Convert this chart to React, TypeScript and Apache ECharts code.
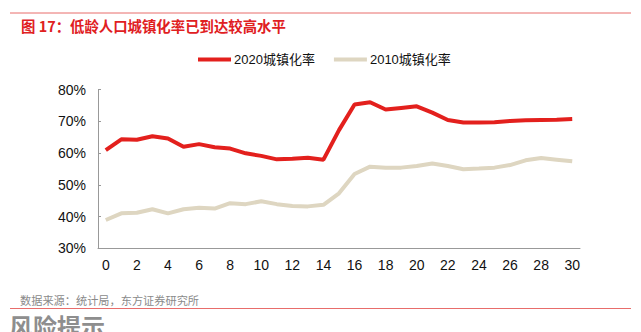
import React, { useEffect, useRef } from "react";
import * as echarts from "echarts";

const categories = Array.from({ length: 31 }, (_, i) => String(i));
const urban2020 = [
  60.9, 64.3, 64.2, 65.3, 64.6, 62.0, 62.8, 61.8, 61.4, 59.9, 59.1, 58.0, 58.2, 58.5, 57.9,
  67.2, 75.3, 76.0, 73.7, 74.2, 74.7, 72.7, 70.4, 69.6, 69.6, 69.7, 70.1, 70.3, 70.4, 70.5, 70.7,
];
const urban2010 = [
  38.9, 41.0, 41.2, 42.3, 41.0, 42.3, 42.8, 42.5, 44.2, 43.9, 44.8, 43.9, 43.3, 43.2, 43.7,
  47.3, 53.4, 55.7, 55.4, 55.4, 55.9, 56.7, 55.9, 54.9, 55.1, 55.4, 56.2, 57.7, 58.4, 57.9, 57.4,
];
const seriesNames = ["2020城镇化率", "2010城镇化率"];
const titleText = "图 17：低龄人口城镇化率已到达较高水平";
const sourceText = "数据来源：统计局，东方证券研究所";
const footerText = "风险提示";

const FONT = "'Liberation Sans', Arial, 'Noto Sans CJK SC', sans-serif";
const CJK = "'Noto Sans CJK SC', 'Liberation Sans', sans-serif";

export default function App() {
  const ref = useRef<HTMLDivElement>(null);
  useEffect(() => {
    if (!ref.current) return;
    const chart = echarts.init(ref.current, undefined, { renderer: "svg" });
    chart.setOption({
      animation: false,
      backgroundColor: "#fff",
      grid: { left: 98, right: 61, top: 89.5, bottom: 83.7, containLabel: false },
      legend: {
        left: 198,
        top: 53,
        padding: 0,
        itemWidth: 33,
        itemHeight: 4,
        itemGap: 19,
        icon: "rect",
        textStyle: { fontSize: 13, color: "#111", fontFamily: FONT, padding: [0, 0, 0, -2] },
        data: seriesNames,
      },
      xAxis: {
        type: "category",
        data: categories,
        boundaryGap: true,
        axisLine: { lineStyle: { color: "#999", width: 1 } },
        axisTick: { inside: true, length: 3, interval: 0, lineStyle: { color: "#999" } },
        axisLabel: { interval: 1, fontSize: 14, color: "#111", fontFamily: FONT, margin: 10 },
      },
      yAxis: {
        type: "value",
        min: 30,
        max: 80,
        interval: 10,
        axisLine: { show: true, lineStyle: { color: "#999", width: 1 } },
        axisTick: { show: true, inside: true, length: 3, lineStyle: { color: "#999" } },
        splitLine: { show: false },
        axisLabel: { formatter: "{value}%", fontSize: 14, color: "#111", fontFamily: FONT, margin: 12 },
      },
      series: [
        {
          name: seriesNames[0],
          type: "line",
          data: urban2020,
          symbol: "none",
          lineStyle: { color: "#e3201d", width: 4 },
          itemStyle: { color: "#e3201d" },
        },
        {
          name: seriesNames[1],
          type: "line",
          data: urban2010,
          symbol: "none",
          lineStyle: { color: "#ded6c1", width: 4 },
          itemStyle: { color: "#ded6c1" },
        },
      ],
      graphic: [
        { type: "line", shape: { x1: 10, y1: 13, x2: 631, y2: 13 }, style: { stroke: "#e86d6b", lineWidth: 1 } },
        {
          type: "text",
          x: 21,
          y: 25,
          style: { text: titleText, fill: "#e0201f", fontSize: 14.4, fontWeight: "bold", fontFamily: CJK, textVerticalAlign: "middle" },
        },
        {
          type: "text",
          x: 20,
          y: 300,
          style: { text: sourceText, fill: "#8a8a8a", fontSize: 11.2, fontFamily: CJK, textVerticalAlign: "middle" },
        },
        { type: "line", shape: { x1: 10, y1: 308.5, x2: 631, y2: 308.5 }, style: { stroke: "#e86d6b", lineWidth: 1 } },
        {
          type: "text",
          x: 9,
          y: 313,
          style: { text: footerText, fill: "#8e8e8e", fontSize: 24, fontWeight: "bold", fontFamily: CJK, textVerticalAlign: "top" },
        },
      ],
    });
    return () => chart.dispose();
  }, []);
  return <div ref={ref} style={{ width: 641, height: 332, position: "absolute", left: 0, top: 0 }} />;
}
